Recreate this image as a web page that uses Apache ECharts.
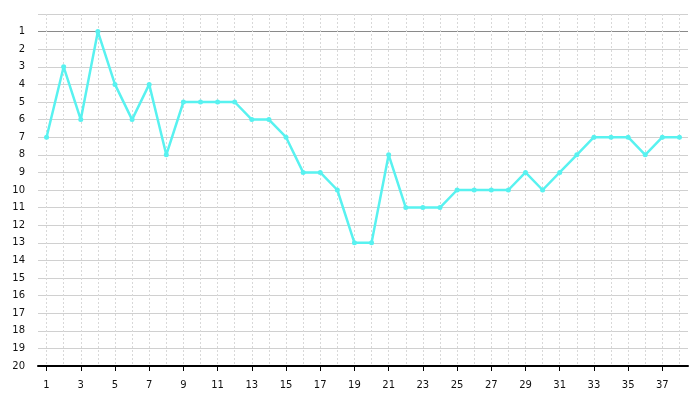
<!DOCTYPE html>
<html><head><meta charset="utf-8">
<script src="https://cdn.jsdelivr.net/npm/echarts@6/dist/echarts.min.js"></script>
<style>html,body{margin:0;padding:0;background:#fff;}#c{width:696px;height:406px;}</style>
</head><body><div id="c"></div>
<script>
const categories = ['1','2','3','4','5','6','7','8','9','10','11','12','13','14','15','16','17','18','19','20','21','22','23','24','25','26','27','28','29','30','31','32','33','34','35','36','37','38'];
const values = [7,3,6,1,4,6,4,8,5,5,5,5,6,6,7,9,9,10,13,13,8,11,11,11,10,10,10,10,9,10,9,8,7,7,7,8,7,7];
const yMin = 0, yMax = 20, yStep = 1;

const hColors = [];
for (let i = 0; i <= 20; i++) hColors.push(i === 1 ? '#8a8a8a' : '#d0d0d0');

const chart = echarts.init(document.getElementById('c'), null, {renderer: 'canvas'});
chart.setOption({
  animation: false,
  backgroundColor: '#fff',
  textStyle: {fontFamily: 'DejaVu Sans'},
  grid: {left: 38, right: 8, top: 14, bottom: 40, containLabel: false},
  xAxis: {
    type: 'category',
    data: categories,
    boundaryGap: true,
    position: 'bottom',
    axisLine: {show: true, onZero: false, lineStyle: {color: '#000', width: 2}},
    axisTick: {show: true, alignWithLabel: true, interval: 1, length: 5, lineStyle: {color: '#000', width: 1}},
    axisLabel: {interval: 1, color: '#111', fontSize: 10, margin: 14, fontFamily: 'DejaVu Sans'},
    splitLine: {show: true, interval: 0, alignWithLabel: true, lineStyle: {color: '#d8d8d8', type: [2, 2], width: 1}}
  },
  yAxis: {
    type: 'value',
    inverse: true,
    min: yMin, max: yMax, interval: yStep,
    axisLine: {show: false},
    axisTick: {show: false},
    axisLabel: {color: '#111', fontSize: 10, margin: 13, fontFamily: 'DejaVu Sans',
      formatter: v => v === 0 ? '' : String(v)},
    splitLine: {show: true, lineStyle: {color: hColors, width: 1}}
  },
  series: [{
    type: 'line',
    data: values,
    symbol: 'circle',
    symbolSize: 5,
    itemStyle: {color: '#58f2f0'},
    lineStyle: {color: '#58f2f0', width: 2.5},
    z: 5
  }]
});
</script>
</body></html>
